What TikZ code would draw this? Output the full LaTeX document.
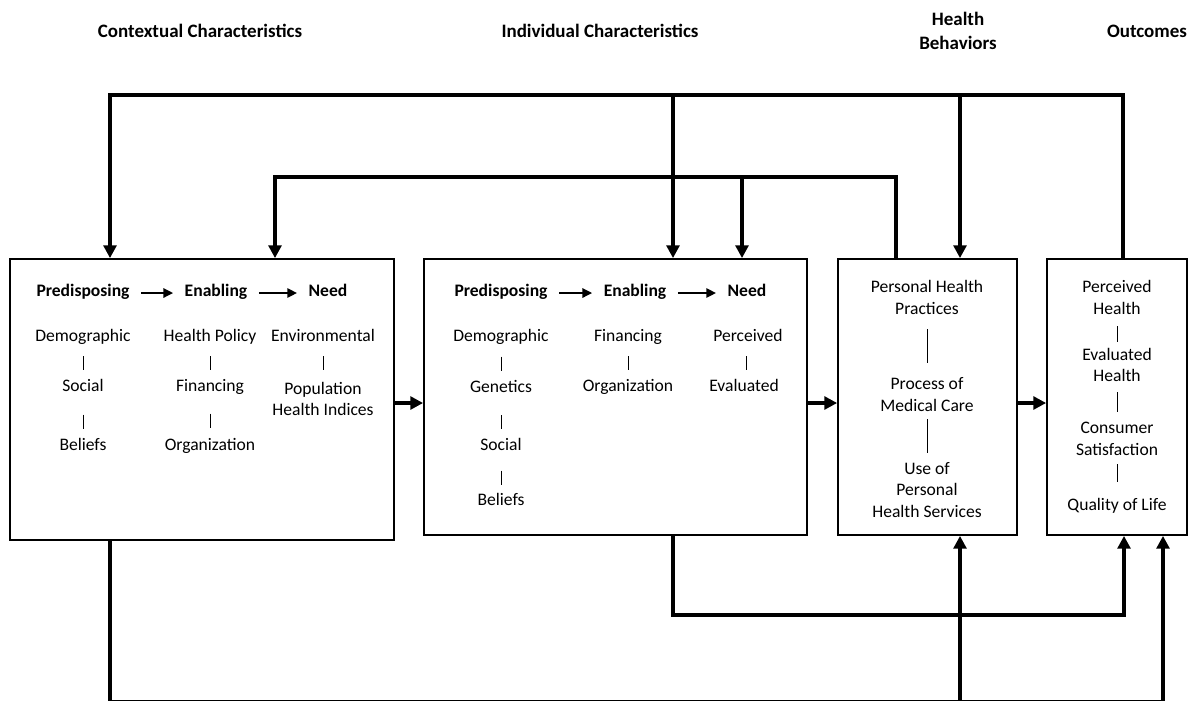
\documentclass[tikz,border=0pt]{standalone}
\usepackage{fontspec}
\setmainfont{Carlito}
\usetikzlibrary{arrows.meta,calc}

\begin{document}
\begin{tikzpicture}[x=0.025cm, y=-0.025cm,
        font=\fontsize{12.5}{15.5}\selectfont,
        box/.style={draw, line width=1.2pt, minimum height=6.9cm},
        headtext/.style={font=\fontsize{13.5}{17}\selectfont\bfseries, align=center},
        catname/.style={font=\fontsize{12.5}{15.5}\selectfont\bfseries, inner xsep=8pt,
            text height=1.6ex, text depth=0.5ex},
        entry/.style={inner sep=1pt, text height=1.6ex, text depth=0.5ex},
        lines/.style={align=center, inner sep=1pt},
        link/.style={line width=2.6pt, -{Triangle[length=9pt, width=9pt]}},
        catarrow/.style={line width=1.8pt, -{Triangle[length=7pt, width=6.5pt]}},
        sepbar/.style={line width=0.7pt}]
    \useasboundingbox (0,0) rectangle (1189,700);

    % column headings
    \node[headtext] (hctx) at (200,31) {Contextual Characteristics};
    \node[headtext] (hind) at (600,31) {Individual Characteristics};
    \node[headtext] (hbeh) at (958,31) {Health\\Behaviors};
    \node[headtext] (hout) at (1147,31) {Outcomes};

    % the four boxes
    \node[box, minimum width=9.6cm, minimum height=7.025cm] (ctx) at (202,399.5) {};
    \node[box, minimum width=9.575cm] (ind) at (615.5,397) {};
    \node[box, minimum width=4.475cm] (beh) at (927.5,397) {};
    \node[box, minimum width=3.5cm] (out) at (1117,397) {};

    % contextual characteristics
    \node[catname] (cpre) at (83,293) {Predisposing};
    \node[catname] (cena) at (216,293) {Enabling};
    \node[catname] (cneed) at (328,293) {Need};
    \draw[catarrow] (cpre) -- (cena);
    \draw[catarrow] (cena) -- (cneed);
    \node[entry] (cdem) at (83,338) {Demographic};
    \node[entry] (csoc) at (83,388) {Social};
    \node[entry] (cbel) at (83,447) {Beliefs};
    \node[entry] (cpol) at (210,338) {Health Policy};
    \node[entry] (cfin) at (210,388) {Financing};
    \node[entry] (corg) at (210,447) {Organization};
    \node[entry] (cenv) at (323,338) {Environmental};
    \node[lines] (cpop) at (323,399) {Population\\Health Indices};
    \draw[sepbar] ($(cdem)!0.5!(csoc)$) +(0,-7) -- +(0,7);
    \draw[sepbar] ($(csoc)!0.5!(cbel)$) ++(0,4) +(0,-7) -- +(0,7);
    \draw[sepbar] ($(cpol)!0.5!(cfin)$) +(0,-7) -- +(0,7);
    \draw[sepbar] ($(cfin)!0.5!(corg)$) ++(0,3) +(0,-7) -- +(0,7);
    \draw[sepbar] (cenv) ++(0,25) +(0,-7) -- +(0,7);

    % individual characteristics
    \node[catname] (ipre) at (501,293) {Predisposing};
    \node[catname] (iena) at (635,293) {Enabling};
    \node[catname] (ineed) at (747,293) {Need};
    \draw[catarrow] (ipre) -- (iena);
    \draw[catarrow] (iena) -- (ineed);
    \node[entry] (idem) at (501,338) {Demographic};
    \node[entry] (igen) at (501,389) {Genetics};
    \node[entry] (isoc) at (501,447) {Social};
    \node[entry] (ibel) at (501,502) {Beliefs};
    \node[entry] (ifin) at (628,338) {Financing};
    \node[entry] (iorg) at (628,388) {Organization};
    \node[entry] (iper) at (748,338) {Perceived};
    \node[entry] (ieva) at (744,388) {Evaluated};
    \draw[sepbar] ($(idem)!0.5!(igen)$) +(0,-7) -- +(0,7);
    \draw[sepbar] ($(igen)!0.5!(isoc)$) ++(0,4) +(0,-7) -- +(0,7);
    \draw[sepbar] ($(isoc)!0.5!(ibel)$) ++(0,3) +(0,-7) -- +(0,7);
    \draw[sepbar] ($(ifin)!0.5!(iorg)$) +(0,-7) -- +(0,7);
    \draw[sepbar] ($(iper)!0.5!(ieva)$) +(0,-7) -- +(0,7);

    % health behaviors
    \node[lines] (bpra) at (927,297.5) {Personal Health\\Practices};
    \node[lines] (bpro) at (927,394.5) {Process of\\Medical Care};
    \node[lines] (buse) at (927,490) {Use of\\Personal\\Health Services};
    \draw[sepbar] ($(bpra)!0.5!(bpro)$) +(0,-17) -- +(0,17);
    \draw[sepbar] ($(bpro)!0.5!(buse)$) ++(0,-6) +(0,-17) -- +(0,17);

    % outcomes
    \node[lines] (oper) at (1117,297.5) {Perceived\\Health};
    \node[lines] (oeva) at (1117,365) {Evaluated\\Health};
    \node[lines] (ocon) at (1117,439) {Consumer\\Satisfaction};
    \node[entry] (oqol) at (1117,507) {Quality of Life};
    \draw[sepbar] ($(oper)!0.5!(oeva)$) ++(0,3) +(0,-8) -- +(0,8);
    \draw[sepbar] ($(oeva)!0.5!(ocon)$) +(0,-10) -- +(0,10);
    \draw[sepbar] ($(ocon)!0.5!(oqol)$) +(0,-9) -- +(0,9);

    % main flow
    \coordinate (flowy) at (0,403);
    \draw[link] (ctx.east |- flowy) -- (ind.west |- flowy);
    \draw[link] (ind.east |- flowy) -- (beh.west |- flowy);
    \draw[link] (beh.east |- flowy) -- (out.west |- flowy);

    % feedback from outcomes
    \coordinate (topR) at (1123,95);
    \coordinate (topL) at (110,95);
    \coordinate (topI) at (673,95);
    \coordinate (topB) at (960,95);
    \draw[link] (out.north -| topR) |- (topL) -- (topL |- ctx.north);
    \draw[link] (topI) -- (topI |- ind.north);
    \draw[link] (topB) -- (topB |- beh.north);

    % feedback from health behaviors
    \coordinate (midR) at (896,177);
    \coordinate (midL) at (275,177);
    \coordinate (midI) at (742,177);
    \draw[link] (beh.north -| midR) |- (midL) -- (midL |- ctx.north);
    \draw[link] (midI) -- (midI |- ind.north);

    % individual characteristics to outcomes
    \coordinate (lowL) at (673,615);
    \coordinate (lowR) at (1124,615);
    \draw[link] (ind.south -| lowL) |- (lowR) -- (lowR |- out.south);

    % contextual characteristics to behaviors and outcomes
    \coordinate (botL) at (110,701.5);
    \coordinate (botR) at (1163,701.5);
    \coordinate (botB) at (960,701.5);
    \draw[link] (ctx.south -| botL) |- (botR) -- (botR |- out.south);
    \draw[link] (botB) -- (botB |- beh.south);
\end{tikzpicture}
\end{document}
